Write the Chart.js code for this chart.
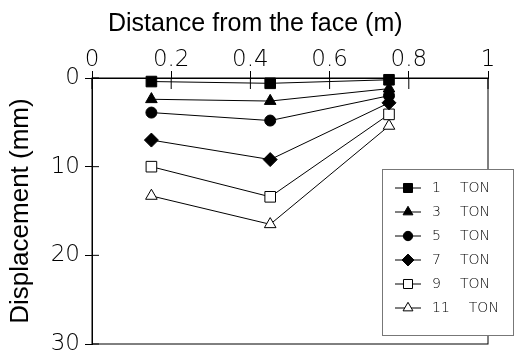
<!DOCTYPE html>
<html>
<head>
<meta charset="utf-8">
<script src="https://cdn.jsdelivr.net/npm/chart.js@4.4.1/dist/chart.umd.min.js"></script>
<style>
  html, body { margin: 0; padding: 0; background: #fff; }
  #wrap { width: 515px; height: 354px; }
</style>
</head>
<body>
<div id="wrap"><canvas id="chart" width="515" height="354"></canvas></div>
<script>
// distance from the face (m) where readings were taken
const distances = [0.15, 0.45, 0.75];
const loadLabels = ['1', '3', '5', '7', '9', '11'];

// displacement (mm) per load step
const disp1 = [0.4, 0.6, 0.2];
const disp3 = [2.4, 2.6, 1.2];
const disp5 = [3.9, 4.8, 2.0];
const disp7 = [7.0, 9.2, 2.8];
const disp9 = [10.0, 13.4, 4.1];
const disp11 = [13.3, 16.5, 5.4];

const xTicks = [0, 0.2, 0.4, 0.6, 0.8, 1];
const yTicks = [0, 10, 20, 30];

const seriesValues = [disp1, disp3, disp5, disp7, disp9, disp11];
const markerStyles = [
    { pointStyle: 'rect', fill: '#000', radius: 7.5 },
    { pointStyle: 'triangle', fill: '#000', radius: 6.7 },
    { pointStyle: 'circle', fill: '#000', radius: 5.5 },
    { pointStyle: 'rectRot', fill: '#000', radius: 7 },
    { pointStyle: 'rect', fill: '#fff', radius: 7.5 },
    { pointStyle: 'triangle', fill: '#fff', radius: 6.7 }
];

const tickFont = { family: 'DejaVu Sans', size: 23, weight: '200' };
const titleFont = { family: 'Liberation Sans', size: 25, weight: 'normal' };

const datasets = seriesValues.map((values, i) => ({
    label: loadLabels[i] + ' TON',
    data: values.map((v, j) => ({ x: distances[j], y: v })),
    borderColor: '#000',
    borderWidth: 1,
    tension: 0,
    pointStyle: markerStyles[i].pointStyle,
    pointRadius: markerStyles[i].radius,
    pointBackgroundColor: markerStyles[i].fill,
    pointBorderColor: '#000',
    pointBorderWidth: 1,
    clip: false
}));

// frame + inward tick marks
const frameTicks = {
    id: 'frameTicks',
    beforeDatasetsDraw(chart) {
        const { ctx, chartArea: a, scales: { x, y } } = chart;
        ctx.save();
        ctx.strokeStyle = '#000';
        ctx.lineWidth = 1;
        ctx.strokeRect(a.left, a.top, a.right - a.left, a.bottom - a.top);
        ctx.beginPath();
        x.ticks.forEach(t => {
            const px = x.getPixelForValue(t.value);
            ctx.moveTo(px, a.top);
            ctx.lineTo(px, a.top + 11);
        });
        y.ticks.forEach(t => {
            const py = y.getPixelForValue(t.value);
            ctx.moveTo(a.left, py);
            ctx.lineTo(a.left + 7, py);
        });
        ctx.stroke();
        ctx.restore();
    }
};

// boxed legend in the lower right corner
const boxLegend = {
    id: 'boxLegend',
    afterDraw(chart) {
        const { ctx } = chart;
        const box = { left: 382, top: 169, right: 513, bottom: 335 };
        ctx.save();
        ctx.fillStyle = '#fff';
        ctx.fillRect(box.left, box.top, box.right - box.left, box.bottom - box.top);
        ctx.strokeStyle = '#777';
        ctx.lineWidth = 1;
        ctx.strokeRect(box.left + 0.5, box.top + 0.5, box.right - box.left, box.bottom - box.top);

        ctx.font = '200 14px "DejaVu Sans"';
        ctx.textBaseline = 'middle';
        ctx.textAlign = 'left';
        chart.data.datasets.forEach((ds, i) => {
            const yy = 188 + i * 24;
            ctx.strokeStyle = '#000';
            ctx.beginPath();
            ctx.moveTo(395, yy);
            ctx.lineTo(421, yy);
            ctx.stroke();
            ctx.fillStyle = ds.pointBackgroundColor;
            Chart.helpers.drawPoint(ctx, {
                pointStyle: ds.pointStyle,
                rotation: 0,
                radius: ds.pointRadius * 0.85,
                borderWidth: 1
            }, 408, yy);

            const parts = ds.label.split(' ');
            ctx.fillStyle = '#000';
            ctx.fillText(parts[0], 432, yy);
            ctx.fillText(parts[1], 432 + ctx.measureText(parts[0]).width + 19, yy);
        });
        ctx.restore();
    }
};

new Chart(document.getElementById('chart'), {
    type: 'line',
    data: { datasets: datasets },
    options: {
        responsive: false,
        animation: false,
        devicePixelRatio: 1,
        layout: { padding: { left: 0, right: 27, top: 0, bottom: 10 } },
        plugins: {
            legend: { display: false },
            tooltip: { enabled: false }
        },
        scales: {
            x: {
                type: 'linear',
                position: 'top',
                min: 0,
                max: 1,
                afterBuildTicks: scale => { scale.ticks = xTicks.map(v => ({ value: v })); },
                afterFit: scale => {
                    scale.height = 78;
                    scale.paddingLeft = 0;
                    scale.paddingRight = 0;
                },
                ticks: {
                    font: tickFont,
                    color: '#000',
                    padding: -3,
                    maxRotation: 0,
                    callback: v => String(v)
                },
                grid: { drawOnChartArea: false, drawTicks: true, tickLength: 7, color: '#000' },
                border: { display: true, color: '#000' },
                title: {
                    display: true,
                    text: 'Distance from the face (m)          ',
                    font: titleFont,
                    color: '#000',
                    padding: { top: 9, bottom: 0 }
                }
            },
            y: {
                type: 'linear',
                reverse: true,
                min: 0,
                max: 30,
                afterBuildTicks: scale => { scale.ticks = yTicks.map(v => ({ value: v })); },
                afterFit: scale => {
                    scale.width = 92;
                    scale.paddingTop = 0;
                    scale.paddingBottom = 0;
                },
                ticks: {
                    font: tickFont,
                    color: '#000',
                    padding: 5,
                    callback: v => String(v)
                },
                grid: { drawOnChartArea: false, drawTicks: true, tickLength: 7, color: '#000' },
                border: { display: true, color: '#000' },
                title: {
                    display: true,
                    text: 'Displacement (mm)',
                    font: { family: 'Liberation Sans', size: 26, weight: 'normal' },
                    color: '#000',
                    padding: { top: 5, bottom: 0 }
                }
            }
        }
    },
    plugins: [frameTicks, boxLegend]
});
</script>
</body>
</html>
